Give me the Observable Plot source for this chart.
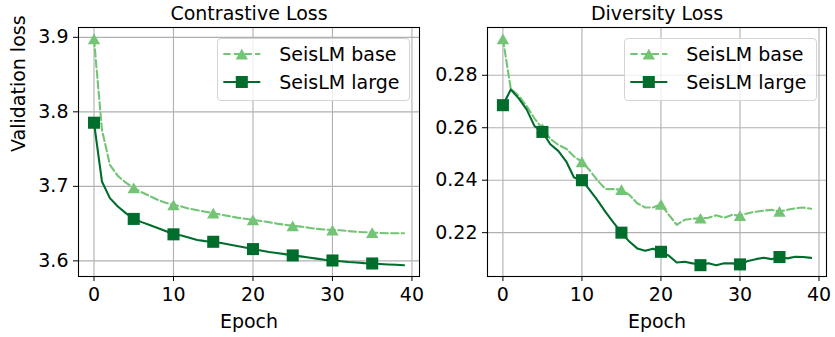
<!DOCTYPE html>
<html><head><meta charset="utf-8">
<script src="https://cdn.jsdelivr.net/npm/d3@7"></script>
<script src="https://cdn.jsdelivr.net/npm/@observablehq/plot@0.6"></script>
<style>
body{margin:0;background:#fff;}
#wrap{position:relative;width:835px;height:337px;display:flex;font-family:"DejaVu Sans",sans-serif;}
.legend{position:absolute;box-sizing:border-box;border:1px solid #d4d4d4;border-radius:4px;background:rgba(255,255,255,0.8);}
.legend svg{display:block;overflow:visible;}
</style></head><body><div id="wrap"></div>
<script>
// ---- data ----
const epochs = [0,1,2,3,4,5,6,7,8,9,10,11,12,13,14,15,16,17,18,19,20,21,22,23,24,25,26,27,28,29,30,31,32,33,34,35,36,37,38,39];
const seriesNames = ["SeisLM base", "SeisLM large"];
const panelTitles = ["Contrastive Loss", "Diversity Loss"];
const xLabel = "Epoch";
const yLabel = "Validation loss";
const xTicks = [0, 10, 20, 30, 40];
const contrastiveTicks = [3.6, 3.7, 3.8, 3.9];
const diversityTicks = [0.22, 0.24, 0.26, 0.28];
const markEvery = 5;

const contrastiveBase = [3.898,3.776,3.729,3.714,3.705,3.698,3.692,3.687,3.682,3.678,
  3.675,3.673,3.670,3.668,3.666,3.664,3.662,3.660,3.658,3.6565,
  3.655,3.6535,3.652,3.650,3.6485,3.647,3.646,3.6445,3.643,3.642,
  3.6414,3.641,3.640,3.639,3.6385,3.638,3.6375,3.637,3.637,3.637];
const contrastiveLarge = [3.7854,3.7066,3.6842,3.673,3.664,3.6563,3.652,3.648,3.644,3.640,
  3.6356,3.634,3.631,3.628,3.6265,3.6256,3.624,3.622,3.620,3.618,
  3.6158,3.614,3.612,3.6105,3.609,3.6073,3.606,3.6045,3.603,3.6015,
  3.6005,3.5995,3.5985,3.5978,3.597,3.5965,3.5958,3.5952,3.5948,3.5942];
const diversityBase = [0.2939,0.2748,0.2722,0.2683,0.2635,0.2597,0.2558,0.2535,0.2520,0.2490,
  0.2470,0.2437,0.2398,0.2366,0.2366,0.2364,0.2344,0.2312,0.2296,0.2296,
  0.2308,0.2268,0.2230,0.2249,0.2253,0.2255,0.2257,0.2266,0.2257,0.2268,
  0.2265,0.2274,0.2280,0.2284,0.2287,0.2281,0.2287,0.2293,0.2296,0.2291];
const diversityLarge = [0.2686,0.2746,0.2712,0.2670,0.2606,0.2584,0.2537,0.2512,0.2472,0.2410,
  0.2400,0.2362,0.2322,0.2278,0.2238,0.2200,0.2166,0.2140,0.2131,0.2139,
  0.2127,0.2112,0.2086,0.2089,0.2083,0.2076,0.2083,0.2076,0.2083,0.2083,
  0.2079,0.2092,0.2099,0.2104,0.2099,0.2107,0.2102,0.2108,0.2107,0.2104];

// ---- style ----
const colors = ["#74c476", "#006d2c"];
const fontSize = 19;
const gridColor = "#b0b0b0";
const lineWidth = 2.1;

function rowsOf(values) { return epochs.map((e, i) => ({epoch: e, value: values[i]})); }
function padded(vals) {
  const [a, b] = d3.extent(vals); const p = (b - a) * 0.05; return [a - p, b + p];
}

function panel({title, base, large, yTicks, yFormat, width, marginLeft, marginRight, showYLabel}) {
  const baseRows = rowsOf(base), largeRows = rowsOf(large);
  const marks = [
    Plot.gridX({ticks: xTicks, stroke: gridColor, strokeOpacity: 1, strokeWidth: 1.1}),
    Plot.gridY({ticks: yTicks, stroke: gridColor, strokeOpacity: 1, strokeWidth: 1.1}),
    Plot.line(baseRows, {x: "epoch", y: "value", stroke: colors[0], strokeWidth: lineWidth, strokeDasharray: "7.4,3.2"}),
    Plot.line(largeRows, {x: "epoch", y: "value", stroke: colors[1], strokeWidth: lineWidth}),
    Plot.dot(baseRows.filter(d => d.epoch % markEvery === 0), {x: "epoch", y: "value", symbol: "triangle", r: 4.6, fill: colors[0], stroke: "none", dy: 1.8}),
    Plot.dot(largeRows.filter(d => d.epoch % markEvery === 0), {x: "epoch", y: "value", symbol: "square", r: 6.8, fill: colors[1], stroke: "none"}),
    Plot.frame({stroke: "#000", strokeWidth: 1.1}),
    Plot.axisX({ticks: xTicks, tickSize: 5, tickPadding: 6, label: null, stroke: "#000"}),
    Plot.axisY({ticks: yTicks, tickFormat: d3.format(yFormat), tickSize: 5, tickPadding: 5, label: null, stroke: "#000"}),
    Plot.text([title], {frameAnchor: "top", lineAnchor: "middle", dy: -14, fontSize}),
    Plot.text([xLabel], {frameAnchor: "bottom", lineAnchor: "middle", dy: 45, fontSize})
  ];
  if (showYLabel) marks.push(Plot.text([yLabel], {frameAnchor: "left", lineAnchor: "middle", rotate: -90, dx: -60, fontSize}));
  return Plot.plot({
    width, height: 337,
    marginTop: 27, marginBottom: 61, marginLeft, marginRight,
    style: {fontFamily: "DejaVu Sans", fontSize: fontSize + "px", background: "transparent", overflow: "visible"},
    x: {domain: padded(epochs)},
    y: {domain: padded([...base, ...large])},
    marks
  });
}

const wrap = document.getElementById("wrap");
const left = panel({title: panelTitles[0], base: contrastiveBase, large: contrastiveLarge, yTicks: contrastiveTicks, yFormat: ".1f",
  width: 430, marginLeft: 78, marginRight: 11, showYLabel: true});
const right = panel({title: panelTitles[1], base: diversityBase, large: diversityLarge, yTicks: diversityTicks, yFormat: ".2f",
  width: 405, marginLeft: 57, marginRight: 9, showYLabel: false});
wrap.append(left, right);

// ---- legends ----
function legend(frameRight) {
  const w = 193, h = 62.5;
  const div = document.createElement("div");
  div.className = "legend";
  div.style.left = (frameRight - 9.5 - w) + "px";
  div.style.top = "38.3px";
  div.style.width = w + "px";
  div.style.height = h + "px";
  const svg = d3.create("svg").attr("width", w - 2).attr("height", h - 2)
    .style("font-family", "DejaVu Sans").style("font-size", fontSize + "px");
  const rowsY = [15, 43];
  const sym = [d3.symbol(d3.symbolTriangle, 4.6 * 4.6 * Math.PI), d3.symbol(d3.symbolSquare, 6.8 * 6.8 * Math.PI)];
  seriesNames.forEach((name, i) => {
    const y = rowsY[i];
    svg.append("line").attr("x1", 5.3).attr("x2", 42.3).attr("y1", y).attr("y2", y)
      .attr("stroke", colors[i]).attr("stroke-width", lineWidth)
      .attr("stroke-dasharray", i === 0 ? "7.4,3.2" : null);
    svg.append("path").attr("d", sym[i]()).attr("fill", colors[i])
      .attr("transform", `translate(23.8,${y + (i === 0 ? 1.8 : 0)})`);
    svg.append("text").attr("x", 61.3).attr("y", y).attr("dy", "0.36em").attr("fill", "#000").text(name);
  });
  div.append(svg.node());
  wrap.append(div);
}
legend(419);
legend(826);
</script></body></html>
